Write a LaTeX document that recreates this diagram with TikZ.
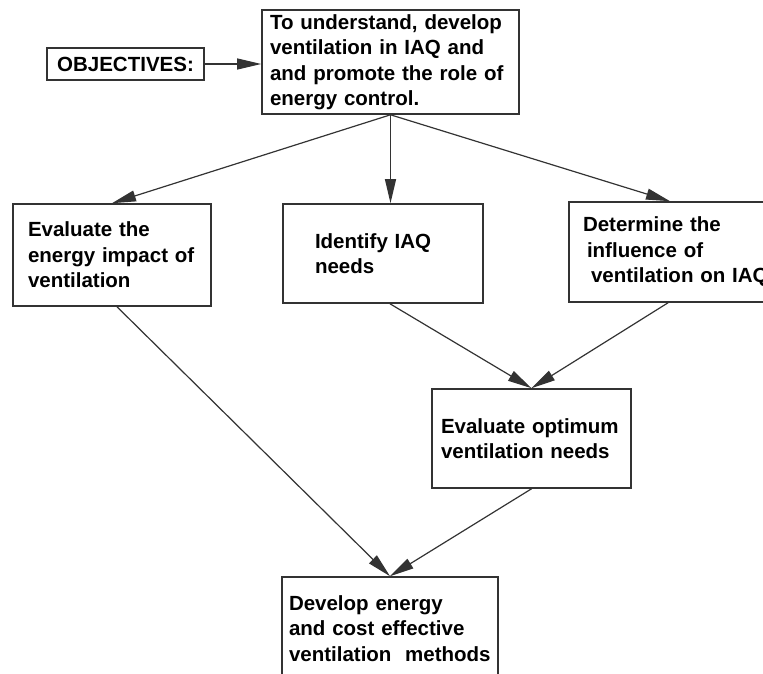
\documentclass[tikz,border=0pt]{standalone}
\usepackage{fontspec}
\setmainfont{Liberation Sans}
\usetikzlibrary{arrows.meta}

\begin{document}
\begin{tikzpicture}[x=1pt,y=-1pt]
            \useasboundingbox (0,0) rectangle (763,674);
            \begin{scope}[every node/.style={draw=black!80, line width=1.6pt, align=left, inner ysep=0pt, font=\fontsize{20.5}{25.5}\selectfont\bfseries}]
                \node[align=center, minimum width=157pt, minimum height=32pt] (obj) at (125.5,64) {OBJECTIVES:};
                \node[text width=241pt, inner xsep=8pt, minimum height=104pt] (top) at (390.5,62) {To understand, develop\\ventilation in IAQ and\\and promote the role of\\energy control.};

                \node[text width=168pt, inner xsep=15pt, minimum height=102pt] (left) at (112,255) {Evaluate the\\energy impact of\\ventilation};
                \node[text width=136pt, inner xsep=32pt, minimum height=99pt] (mid) at (383,253.5) {Identify IAQ\\needs};
                \node[text width=186pt, inner xsep=14pt, minimum height=100pt] (right) at (676,252) {Determine the\\\hspace*{4pt}influence of\\\hspace*{8pt}ventilation on IAQ};

                \node[text width=181pt, inner xsep=9pt, minimum height=99pt] (opt) at (531.5,438.5) {Evaluate optimum\\ventilation needs};

                \node[text width=202pt, inner xsep=7pt, minimum height=103pt] (bot) at (390,628.5) {Develop energy\\and cost effective\\ventilation\ \ methods};
            \end{scope}
            \begin{scope}[every edge/.style={draw=black!80, line width=1.2pt}]
                \path [-{Triangle[length=24pt,width=11pt]}] (obj) edge (obj.east -| top.west);

                \path [-{Triangle[length=24pt,width=11pt]}] (top.south) edge (left.north);
                \path [-{Triangle[length=24pt,width=11pt]}] (top.south) edge (top.south |- mid.north);
                \path [-{Triangle[length=24pt,width=11pt]}] (top.south) edge ([xshift=-6pt]right.north);

                \path [-{Triangle[length=24pt,width=11pt]}] ([xshift=7pt]mid.south) edge (opt.north);
                \path [-{Triangle[length=24pt,width=11pt]}] ([xshift=-8pt]right.south) edge (opt.north);

                \path [-{Triangle[length=24pt,width=11pt]}] ([xshift=5pt]left.south) edge (bot.north);
                \path [-{Triangle[length=24pt,width=11pt]}] (opt.south) edge (bot.north);
            \end{scope}
        \end{tikzpicture}
\end{document}
